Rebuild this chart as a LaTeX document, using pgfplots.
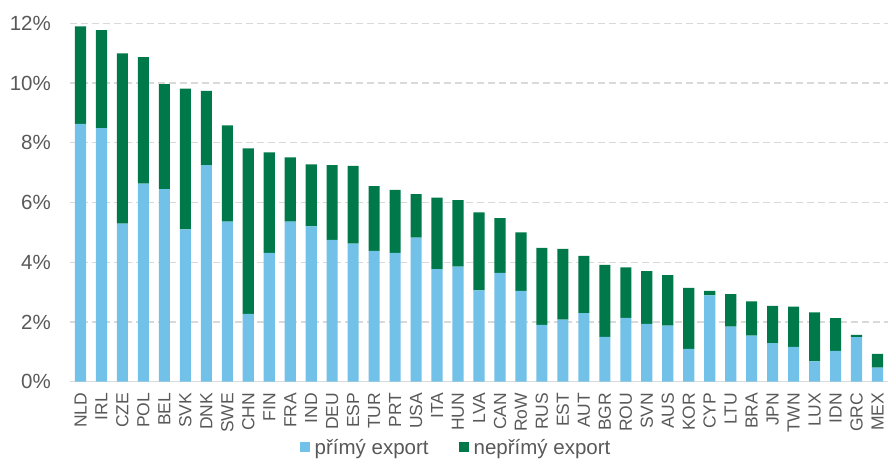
\documentclass[border=0pt]{standalone}
\usepackage{pgfplots}
\usepackage{pgfplotstable}
\pgfplotsset{compat=1.18}
\usepackage{fontspec}
\setmainfont{Liberation Sans}
\definecolor{cblue}{HTML}{72C1E8}
\definecolor{cgreen}{HTML}{00794A}
\definecolor{ctext}{HTML}{595959}
\definecolor{cgrid}{HTML}{D9D9D9}
\pgfplotstableread{
x cat direct indirect
0 NLD 8.63 3.27
1 IRL 8.49 3.28
2 CZE 5.29 5.70
3 POL 6.63 4.24
4 BEL 6.45 3.51
5 SVK 5.10 4.71
6 DNK 7.25 2.49
7 SWE 5.36 3.22
8 CHN 2.27 5.54
9 FIN 4.31 3.37
10 FRA 5.36 2.15
11 IND 5.20 2.08
12 DEU 4.75 2.50
13 ESP 4.62 2.61
14 TUR 4.38 2.17
15 PRT 4.31 2.11
16 USA 4.82 1.46
17 ITA 3.77 2.39
18 HUN 3.85 2.23
19 LVA 3.06 2.61
20 CAN 3.64 1.84
21 RoW 3.04 1.96
22 RUS 1.90 2.58
23 EST 2.08 2.37
24 AUT 2.30 1.91
25 BGR 1.50 2.41
26 ROU 2.14 1.69
27 SVN 1.94 1.76
28 AUS 1.88 1.69
29 KOR 1.10 2.04
30 CYP 2.89 0.15
31 LTU 1.84 1.09
32 BRA 1.54 1.15
33 JPN 1.29 1.25
34 TWN 1.17 1.34
35 LUX 0.68 1.64
36 IDN 1.03 1.10
37 GRC 1.49 0.08
38 MEX 0.47 0.46
}\data
\begin{document}
\begin{tikzpicture}
\begin{axis}[
  at={(70pt,80.3pt)}, anchor=south west,
  scale only axis,
  width=818pt, height=358.4pt,
  xmin=-0.5, xmax=38.5, ymin=0, ymax=12,
  ybar stacked, bar width=0.53,
  axis x line*=bottom, axis y line*=left,
  x axis line style={cgrid, line width=1.5pt, -},
  y axis line style={draw=none},
  xtick=data,
  xticklabels from table={\data}{cat},
  ytick={0,2,4,6,8,10,12},
  yticklabels={0\%,2\%,4\%,6\%,8\%,10\%,12\%},
  major tick length=0pt,
  tick style={draw=none},
  ymajorgrids,
  grid style={cgrid, line width=1.2pt, dash pattern=on 7pt off 4pt},
  yticklabel style={anchor=east, inner xsep=19pt, inner ysep=0pt, text=ctext, font=\fontsize{20.5}{24}\selectfont},
  xticklabel style={rotate=90, anchor=east, inner xsep=11pt, inner ysep=0pt, text=ctext, font=\fontsize{17.5}{20}\selectfont},
  legend columns=2,
  legend style={draw=none, at={(0.4707,-0.207)}, anchor=south, inner sep=0pt, outer sep=0pt,
    font=\fontsize{20.5}{24}\selectfont, text=ctext,
    nodes={inner sep=0pt},
    /tikz/every odd column/.append style={column sep=5pt},
    /tikz/every even column/.append style={column sep=30pt}},
  legend image code/.code={\fill[#1] (0pt,-4pt) rectangle (10pt,6pt);},
]
\addplot[fill=cblue, draw=none] table[x=x, y=direct] {\data};
\addlegendentry{přímý export}
\addplot[fill=cgreen, draw=none] table[x=x, y=indirect] {\data};
\addlegendentry{nepřímý export}
\end{axis}
\pgfresetboundingbox
\path[use as bounding box] (0,0) rectangle (888pt,462pt);
\end{tikzpicture}
\end{document}
